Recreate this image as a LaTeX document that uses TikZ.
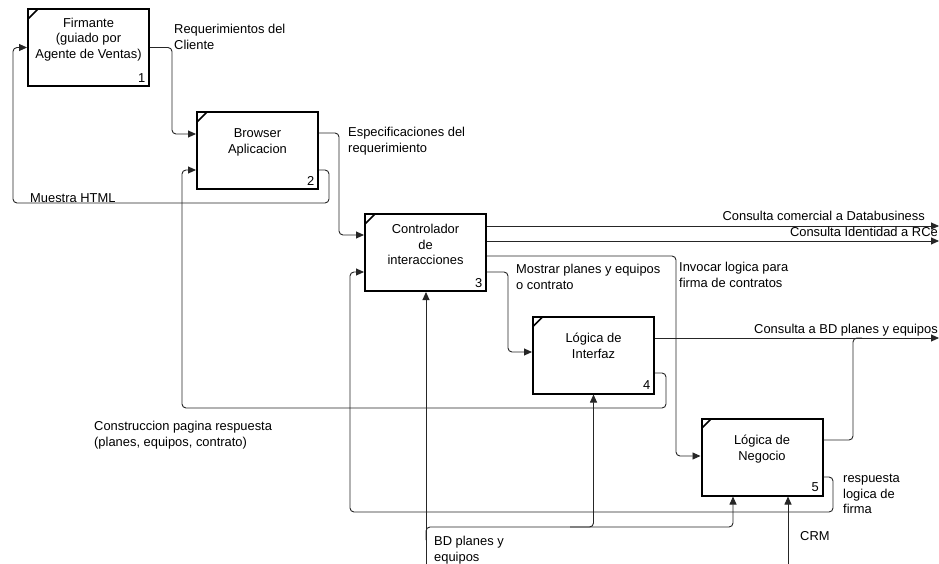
\documentclass[tikz,border=0pt]{standalone}
\usepackage{fontspec}
\setmainfont{Liberation Sans}
\usetikzlibrary{arrows.meta,calc}

\begin{document}
\begin{tikzpicture}[x=1pt,y=-1pt,
  font=\fontsize{12.9}{15.5}\selectfont,
  box/.style={draw=black,line width=2pt,minimum width=121pt,minimum height=77pt,inner sep=0pt,
    path picture={\draw[line width=1.6pt]
      ([xshift=10pt]path picture bounding box.north west) --
      ([yshift=-10pt]path picture bounding box.north west);}},
  boxtext/.style={align=center,inner sep=0pt},
  num/.style={anchor=south east,inner sep=0pt},
  conn/.style={draw=black!85,line width=0.9pt,rounded corners=4pt},
  arr/.style={-{Triangle[length=8pt,width=7pt]}},
  lbl/.style={inner sep=0pt,anchor=north west,align=left},
  lblr/.style={inner sep=0pt,anchor=north east,align=right}
]
\useasboundingbox[fill=white] (0,0) rectangle (939,564);

% activity boxes
\node[box] (b1) at (88.5,47.5) {};
\node[box] (b2) at (257.5,150.5) {};
\node[box] (b3) at (425.5,252.5) {};
\node[box] (b4) at (593.5,355) {};
\node[box] (b5) at (762,457) {};

\node[boxtext] (t1) at ($(b1.center)+(0,-8)$) {Firmante\\(guiado por\\Agente de Ventas)};
\node[boxtext] (t2) at ($(b2.center)+(0,-8)$) {Browser\\Aplicacion};
\node[boxtext] (t3) at ($(b3.center)+(0,-8)$) {Controlador\\de\\interacciones};
\node[boxtext] (t4) at ($(b4.center)+(0,-9)$) {Lógica de\\Interfaz};
\node[boxtext] (t5) at ($(b5.center)+(0,-8)$) {Lógica de\\Negocio};

\node[num] (n1) at ([xshift=-4.5pt,yshift=4.5pt]b1.south east) {1};
\node[num] (n2) at ([xshift=-4.5pt,yshift=4.5pt]b2.south east) {2};
\node[num] (n3) at ([xshift=-4.5pt,yshift=4.5pt]b3.south east) {3};
\node[num] (n4) at ([xshift=-4.5pt,yshift=4.5pt]b4.south east) {4};
\node[num] (n5) at ([xshift=-4.5pt,yshift=4.5pt]b5.south east) {5};

% free ends at the page border
\coordinate (outA) at (939,226);
\coordinate (outB) at (939,241);
\coordinate (outC) at (939,338);
\coordinate (inBD) at (426,564);
\coordinate (inCRM) at (788,564);

% flows between activities
\draw[conn,arr] (b1.east) -- (172,47.5) -- (172,134) -- (b2.west |- 0,134);
\draw[conn,arr] (b2.east |- 0,133) -- (339,133) -- (339,235) -- (b3.west |- 0,235);
\draw[conn,arr] (b2.east |- 0,170) -- (329,170) -- (329,203) -- (13,203) -- (13,47.5) -- (b1.west);
\draw[conn,arr] (b3.east |- outA) -- (outA);
\draw[conn,arr] (b3.east |- outB) -- (outB);
\draw[conn,arr] (b3.east |- 0,256) -- (676,256) -- (676,456) -- (b5.west |- 0,456);
\draw[conn,arr] (b3.east |- 0,272) -- (508,272) -- (508,352) -- (b4.west |- 0,352);
\draw[conn,arr] (b4.east |- outC) -- (outC);
\draw[conn] (b5.east |- 0,440) -- (853,440) -- (853,338) -- (862,338);
\draw[conn,arr] (b4.east |- 0,373) -- (666,373) -- (666,408) -- (182,408) -- (182,170) -- (b2.west |- 0,170);
\draw[conn,arr] (b5.east |- 0,477) -- (833,477) -- (833,512) -- (350,512) -- (350,272) -- (b3.west |- 0,272);
\draw[conn,arr] (inBD) -- (b3.south -| inBD);
\draw[conn,arr] (426,540) -- (426,527) -- (733,527) -- (b5.south -| 733,0);
\draw[conn,arr] (570,527) -- (593.5,527) -- (b4.south);
\draw[conn,arr] (inCRM) -- (b5.south -| inCRM);

% flow labels
\node[lbl] (l1) at (174,24) {Requerimientos del\\Cliente};
\node[lbl] (l2) at (348,127) {Especificaciones del\\requerimiento};
\node[lbl] (l3) at (30,193) {Muestra HTML};
\node[lblr] (l4) at (925,211) {Consulta comercial a Databusiness};
\node[lblr] (l5) at (938,227) {Consulta Identidad a RCe};
\node[lbl] (l6) at (516,264) {Mostrar planes y equipos\\o contrato};
\node[lbl] (l7) at (679,262) {Invocar logica para\\firma de contratos};
\node[lblr] (l8) at (938,324) {Consulta a BD planes y equipos};
\node[lbl] (l9) at (94,421) {Construccion pagina respuesta\\(planes, equipos, contrato)};
\node[lbl] (l10) at (434,536) {BD planes y\\equipos};
\node[lbl] (l11) at (843,474) {respuesta\\logica de\\firma};
\node[lbl] (l12) at (800,531) {CRM};
\end{tikzpicture}
\end{document}
